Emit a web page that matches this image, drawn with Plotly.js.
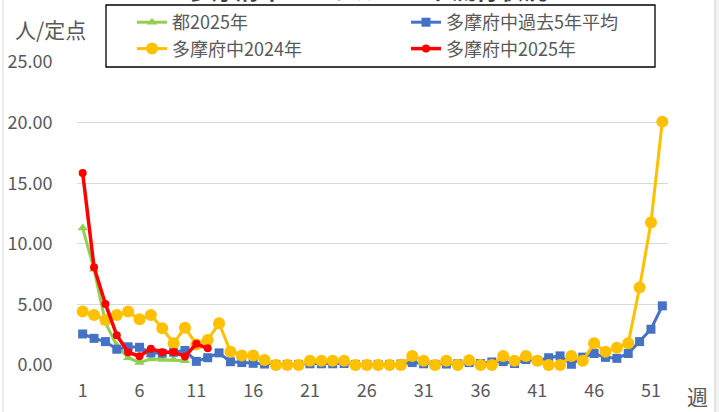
<!DOCTYPE html>
<html>
<head>
<meta charset="utf-8">
<script src="https://cdn.plot.ly/plotly-3.0.1.min.js"></script>
<style>html,body{margin:0;padding:0;background:#fff;}#chart{width:719px;height:412px;}</style>
</head>
<body>
<div id="chart"></div>
<script>
const weeks = Array.from({length: 52}, (_, i) => i + 1);
const tickWeeks = [1, 6, 11, 16, 21, 26, 31, 36, 41, 46, 51];

const names = ["都2025年", "多摩府中過去5年平均", "多摩府中2024年", "多摩府中2025年"];

const tokyo2025 = [11.3, 7.9, 3.5, 1.6, 0.6, 0.2, 0.5, 0.45, 0.45, 0.35];

const past5yrAvg = [2.56, 2.2, 1.93, 1.3, 1.5, 1.46, 1.0, 0.97, 1.05, 1.2,
  0.3, 0.6, 1.0, 0.27, 0.2, 0.14, 0.08, 0.05, 0.05, 0.05,
  0.1, 0.1, 0.1, 0.12, 0.05, 0.05, 0.05, 0.05, 0.08, 0.2,
  0.1, 0.05, 0.08, 0.1, 0.2, 0.12, 0.25, 0.28, 0.12, 0.45,
  0.36, 0.6, 0.75, 0.06, 0.65, 0.95, 0.63, 0.55, 0.95, 1.93,
  2.95, 4.88];

const fuchu2024 = [4.41, 4.13, 3.72, 4.13, 4.41, 3.77, 4.13, 3.03, 1.79, 3.08,
  1.7, 2.07, 3.44, 1.1, 0.78, 0.78, 0.41, 0, 0, 0,
  0.36, 0.36, 0.36, 0.36, 0, 0, 0, 0, 0, 0.74,
  0.36, 0, 0.36, 0, 0.4, 0, 0, 0.74, 0.36, 0.74,
  0.36, 0, 0, 0.74, 0.36, 1.79, 1.1, 1.43, 1.79, 6.4,
  11.76, 20.08];

const fuchu2025 = [15.84, 8.07, 5.04, 2.45, 1.05, 0.72, 1.35, 1.05, 1.08, 0.7, 1.75, 1.38];

const FONT = "'Noto Sans CJK JP', 'Noto Sans', sans-serif";
const GRAY = "#595959";

const traces = [
  {x: weeks.slice(0, tokyo2025.length), y: tokyo2025, name: names[0], type: "scatter", mode: "lines+markers",
   line: {color: "#92d050", width: 3}, marker: {symbol: "triangle-up", size: 9, color: "#92d050"}, cliponaxis: false},
  {x: weeks.slice(0, past5yrAvg.length), y: past5yrAvg, name: names[1], type: "scatter", mode: "lines+markers",
   line: {color: "#4472c4", width: 3}, marker: {symbol: "square", size: 9, color: "#4472c4"}, cliponaxis: false},
  {x: weeks.slice(0, fuchu2024.length), y: fuchu2024, name: names[2], type: "scatter", mode: "lines+markers",
   line: {color: "#ffc000", width: 3}, marker: {symbol: "circle", size: 12, color: "#ffc000"}, cliponaxis: false},
  {x: weeks.slice(0, fuchu2025.length), y: fuchu2025, name: names[3], type: "scatter", mode: "lines+markers",
   line: {color: "#ff0000", width: 3.5}, marker: {symbol: "circle", size: 8, color: "#ff0000"}, cliponaxis: false}
];

const L = 77, R = 668, T = 62, B = 365;
const px = p => (p - L) / (R - L);
const py = p => (B - p) / (B - T);

const layout = {
  width: 719, height: 412,
  margin: {l: L, r: 719 - R, t: T, b: 412 - B, pad: 0, autoexpand: false},
  paper_bgcolor: "#ffffff", plot_bgcolor: "#ffffff",
  font: {family: FONT, color: GRAY, size: 18},
  showlegend: true,
  xaxis: {
    type: "linear", range: [0.5, 52.5], tickmode: "array", tickvals: tickWeeks,
    ticktext: tickWeeks.map(String),
    showgrid: false, zeroline: false, showline: false,
    ticks: "outside", ticklen: 9, tickcolor: "rgba(0,0,0,0)",
    tickfont: {size: 18, color: GRAY, family: FONT}
  },
  yaxis: {
    range: [0, 25], dtick: 5, tick0: 0, tickformat: ".2f",
    showgrid: true, gridcolor: "#d9d9d9", gridwidth: 1,
    zeroline: false, showline: false,
    ticks: "outside", ticklen: 20, tickcolor: "rgba(0,0,0,0)",
    tickfont: {size: 18, color: GRAY, family: FONT}
  },
  legend: {
    orientation: "h", x: px(132), xanchor: "left", y: py(4), yanchor: "top",
    bgcolor: "rgba(0,0,0,0)", borderwidth: 0,
    font: {size: 18, color: GRAY, family: FONT},
    entrywidth: 229, entrywidthmode: "pixels", itemwidth: 30,
    traceorder: "normal"
  },
  shapes: [
    {type: "rect", xref: "paper", yref: "paper", x0: px(106), x1: px(655), y0: py(67), y1: py(5),
     line: {color: "#000000", width: 1.3}, fillcolor: "#ffffff", layer: "above"},
    {type: "line", xref: "paper", yref: "paper", x0: px(3), x1: px(3), y0: py(0), y1: py(412),
     line: {color: "#d9d9d9", width: 1}, layer: "below"},
    {type: "rect", xref: "paper", yref: "paper", x0: px(715), x1: px(720), y0: py(-2), y1: py(414),
     line: {color: "#d0d0d0", width: 1}, fillcolor: "#f2f2f2", layer: "below"}
  ],
  annotations: [
    {text: "多摩府中インフルエンザ流行状況", xref: "paper", yref: "paper", x: px(367), y: py(8),
     xanchor: "center", yanchor: "bottom", showarrow: false,
     font: {size: 24, color: "#404040", family: FONT, weight: "bold"}},
    {text: "人/定点", xref: "paper", yref: "paper", x: px(50), y: py(29),
     xanchor: "center", yanchor: "middle", showarrow: false,
     font: {size: 21, color: GRAY, family: FONT}},
    {text: "週", xref: "paper", yref: "paper", x: px(697), y: py(396),
     xanchor: "center", yanchor: "middle", showarrow: false,
     font: {size: 21, color: GRAY, family: FONT}}
  ]
};

Plotly.newPlot("chart", traces, layout, {staticPlot: true, displayModeBar: false});
</script>
</body>
</html>
